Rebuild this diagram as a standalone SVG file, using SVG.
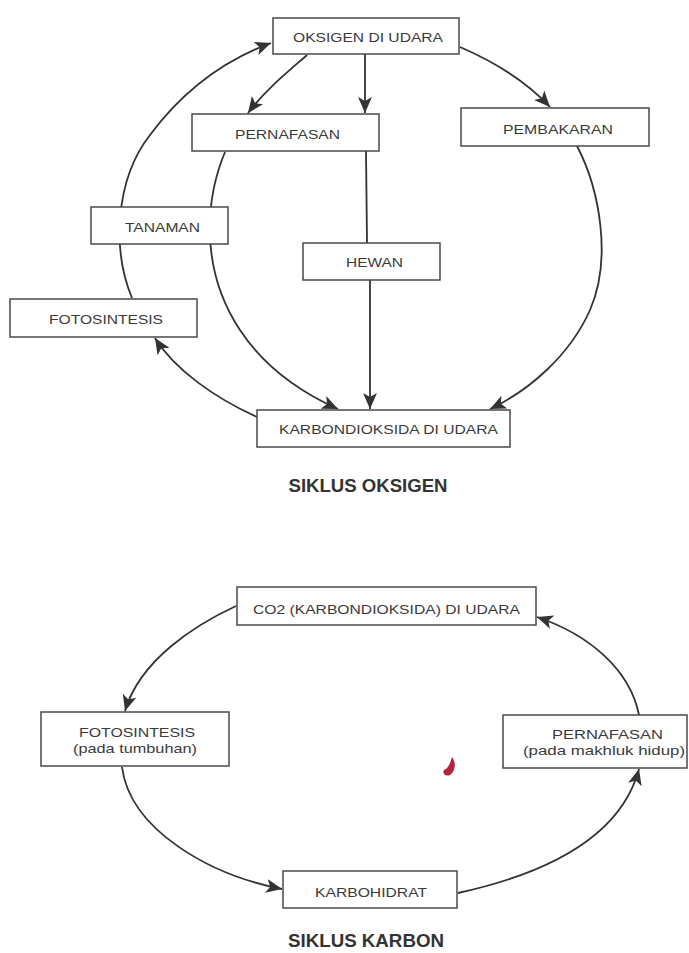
<svg xmlns="http://www.w3.org/2000/svg" width="689" height="953" viewBox="0 0 689 953">
<style>
.box{fill:#fff;stroke:#4a4a4a;stroke-width:1.5}
.lbl{font-family:"Liberation Sans",Arial,sans-serif;font-size:13.5px;fill:#3a3a3a;text-anchor:middle}
.ttl{font-family:"Liberation Sans",Arial,sans-serif;font-size:18px;font-weight:bold;fill:#333;text-anchor:middle}
.ln{fill:none;stroke:#333;stroke-width:1.8}
.arr{marker-end:url(#ah)}
</style>
<defs>
<marker id="ah" markerUnits="userSpaceOnUse" markerWidth="18" markerHeight="16" refX="16" refY="7" orient="auto">
<path d="M0,0 L16,7 L0,14 L4,7 Z" fill="#333"/>
</marker>
</defs>
<rect width="689" height="953" fill="#fff"/>
<g id="connectors">
<path class="ln arr" d="M307,55 C290,70 265,90 248,113"/>
<path class="ln arr" d="M365,54 L365,113"/>
<path class="ln" d="M366,151 L367,243"/>
<path class="ln arr" d="M370,280 L370,409"/>
<path class="ln arr" d="M460,47 C490,60 525,80 550,107"/>
<path class="ln arr" d="M577,146 C600,190 612,260 590,310 C570,355 530,390 490,409"/>
<path class="ln arr" d="M225,152 C205,200 200,270 240,330 C265,368 300,392 338,409"/>
<path class="ln arr" d="M132,298 C112,250 115,180 150,135 C185,88 225,60 271,43"/>
<path class="ln arr" d="M257,417 C215,398 175,370 155,338"/>
<path class="ln arr" d="M236,606 C195,625 140,660 125,711"/>
<path class="ln arr" d="M122,767 C130,830 210,875 282,889"/>
<path class="ln arr" d="M458,893 C540,875 620,840 639,769"/>
<path class="ln arr" d="M639,715 C630,670 590,635 537,617"/>
</g>
<g id="oksigen"><rect class="box" x="273" y="18" width="186" height="36"/><text class="lbl" x="368" y="42" textLength="150" lengthAdjust="spacingAndGlyphs">OKSIGEN DI UDARA</text></g>
<g id="pernafasan1"><rect class="box" x="192" y="114" width="187" height="37"/><text class="lbl" x="287.5" y="139" textLength="105" lengthAdjust="spacingAndGlyphs">PERNAFASAN</text></g>
<g id="pembakaran"><rect class="box" x="461" y="108" width="188" height="38"/><text class="lbl" x="558" y="134" textLength="110" lengthAdjust="spacingAndGlyphs">PEMBAKARAN</text></g>
<g id="tanaman"><rect class="box" x="91" y="207" width="137" height="37"/><text class="lbl" x="162.5" y="232" textLength="75" lengthAdjust="spacingAndGlyphs">TANAMAN</text></g>
<g id="hewan"><rect class="box" x="303" y="243" width="137" height="37"/><text class="lbl" x="374.5" y="267" textLength="57" lengthAdjust="spacingAndGlyphs">HEWAN</text></g>
<g id="fotosintesis1"><rect class="box" x="10" y="299" width="187" height="38"/><text class="lbl" x="106" y="324" textLength="114" lengthAdjust="spacingAndGlyphs">FOTOSINTESIS</text></g>
<g id="karbondioksida"><rect class="box" x="257" y="410" width="253" height="37"/><text class="lbl" x="388.5" y="434" textLength="219" lengthAdjust="spacingAndGlyphs">KARBONDIOKSIDA DI UDARA</text></g>
<g id="title1"><text class="ttl" x="368" y="492" textLength="159" lengthAdjust="spacingAndGlyphs">SIKLUS OKSIGEN</text></g>
<g id="co2"><rect class="box" x="237" y="587" width="299" height="38"/><text class="lbl" x="386.5" y="614" textLength="267" lengthAdjust="spacingAndGlyphs">CO2 (KARBONDIOKSIDA) DI UDARA</text></g>
<g id="fotosintesis2"><rect class="box" x="41" y="712" width="188" height="54"/><text class="lbl" x="137" y="737" textLength="116" lengthAdjust="spacingAndGlyphs">FOTOSINTESIS</text><text class="lbl" x="135" y="753" textLength="124" lengthAdjust="spacingAndGlyphs">(pada tumbuhan)</text></g>
<g id="pernafasan2"><rect class="box" x="503" y="715" width="184" height="53"/><text class="lbl" x="607.5" y="739" textLength="111" lengthAdjust="spacingAndGlyphs">PERNAFASAN</text><text class="lbl" x="604" y="755" textLength="162" lengthAdjust="spacingAndGlyphs">(pada makhluk hidup)</text></g>
<g id="karbohidrat"><rect class="box" x="283" y="871" width="174" height="37"/><text class="lbl" x="371" y="897" textLength="112" lengthAdjust="spacingAndGlyphs">KARBOHIDRAT</text></g>
<g id="title2"><text class="ttl" x="366" y="947" textLength="156" lengthAdjust="spacingAndGlyphs">SIKLUS KARBON</text></g>
<path d="M452,757 C456,762 456,771 450,775 C445,777 442,773 444,770 C449,768 450,763 452,757 Z" fill="#b5233f"/>
</svg>
